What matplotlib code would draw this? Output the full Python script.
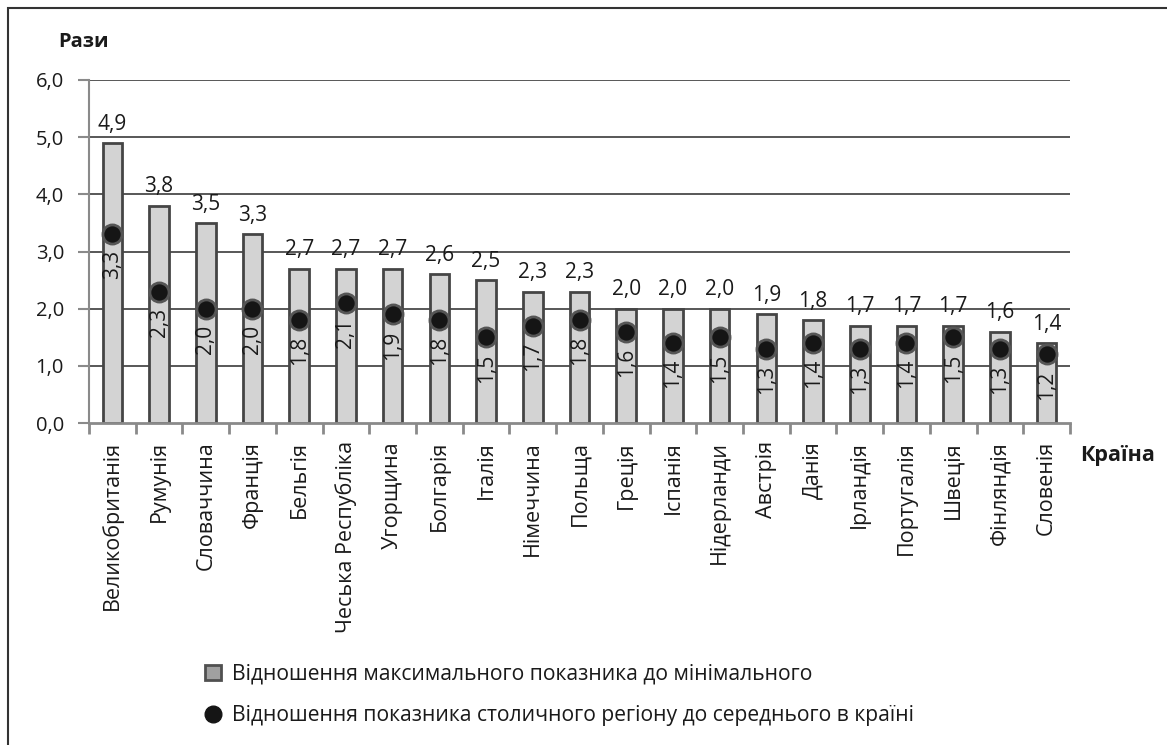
import matplotlib.pyplot as plt
import numpy as np
from matplotlib.lines import Line2D
from matplotlib.patches import Patch, Rectangle

plt.rcParams["font.family"] = ["Open Sans", "DejaVu Sans"]

countries = [
    "Великобританія", "Румунія", "Словаччина", "Франція", "Бельгія",
    "Чеська Республіка", "Угорщина", "Болгарія", "Італія", "Німеччина",
    "Польща", "Греція", "Іспанія", "Нідерланди", "Австрія", "Данія",
    "Ірландія", "Португалія", "Швеція", "Фінляндія", "Словенія",
]
max_to_min = [4.9, 3.8, 3.5, 3.3, 2.7, 2.7, 2.7, 2.6, 2.5, 2.3, 2.3,
              2.0, 2.0, 2.0, 1.9, 1.8, 1.7, 1.7, 1.7, 1.6, 1.4]
capital_to_avg = [3.3, 2.3, 2.0, 2.0, 1.8, 2.1, 1.9, 1.8, 1.5, 1.7, 1.8,
                  1.6, 1.4, 1.5, 1.3, 1.4, 1.3, 1.4, 1.5, 1.3, 1.2]
yticks = [0, 1, 2, 3, 4, 5, 6]

label_bars = "Відношення максимального показника до мінімального"
label_dots = "Відношення показника столичного регіону до середнього в країні"


def fmt(v):
    return f"{v:.1f}".replace(".", ",")


fig = plt.figure(figsize=(11.67, 7.45), dpi=100)
ax = fig.add_axes([89 / 1167, 1 - 423 / 745, (1070 - 89) / 1167, (423 - 80) / 745])

x = np.arange(len(countries))
ax.set_xlim(-0.5, len(countries) - 0.5)
ax.set_ylim(0, 6)

# grid lines (drawn as lines so they sit behind the bars)
for t in yticks[1:]:
    ax.axhline(t, color="#2a2a2a", linewidth=1.1, zorder=1)

ax.bar(x, max_to_min, width=0.42, color="#d3d3d3", edgecolor="#454545",
       linewidth=2, zorder=2)
ax.scatter(x, capital_to_avg, s=190, color="#151515", edgecolor="#555555",
           linewidth=2, zorder=4)

for xi, v in zip(x, max_to_min):
    ax.annotate(fmt(v), (xi, v), xytext=(0, 6), textcoords="offset points",
                ha="center", va="bottom", fontsize=15, color="#1a1a1a")
for xi, v in zip(x, capital_to_avg):
    ax.text(xi, v - 0.28, fmt(v), rotation=90, ha="center", va="top",
            fontsize=15, color="#1a1a1a", zorder=5)

# axes styling
for s in ["top", "right"]:
    ax.spines[s].set_visible(False)
ax.spines["left"].set_color("#8a8a8a")
ax.spines["left"].set_linewidth(1.5)
ax.spines["bottom"].set_color("#8a8a8a")
ax.spines["bottom"].set_linewidth(2)
ax.set_yticks(yticks)
ax.set_yticklabels([fmt(t) for t in yticks], fontsize=14.5, color="#1a1a1a")
ax.tick_params(axis="y", length=8, width=1.5, color="#8a8a8a", pad=10)

ax.set_xticks(x)
ax.set_xticklabels(countries, rotation=90, fontsize=15.5, color="#1a1a1a")
ax.tick_params(axis="x", length=0, pad=13)
ax.set_xticks(np.arange(-0.5, len(countries)), minor=True)
ax.tick_params(axis="x", which="minor", length=8, width=2, color="#8a8a8a")
ax.set_yticks([1, 2, 3, 4, 5, 6], minor=True)
ax.tick_params(axis="y", which="minor", right=True, left=False, length=4,
               width=1, color="#8a8a8a")

fig.text(58 / 1167, 1 - 42 / 745, "Рази", fontsize=14.5, fontweight="bold",
         ha="left", va="center", color="#1a1a1a")
fig.text(1080 / 1167, 1 - 455 / 745, "Країна", fontsize=15.5, fontweight="bold",
         ha="left", va="center", color="#1a1a1a")

handles = [
    Patch(facecolor="#a0a0a0", edgecolor="#505050", linewidth=2),
    Line2D([], [], marker="o", linestyle="none", markersize=12,
           color="#151515"),
]
fig.legend(handles, [label_bars, label_dots], loc="upper left",
           bbox_to_anchor=(186 / 1167, 1 - 645 / 745), frameon=False,
           fontsize=15.2, labelspacing=0.95, handlelength=0.75, handleheight=0.75,
           handletextpad=0.55, labelcolor="#1a1a1a")

# outer frame
fig.patches.append(Rectangle((8 / 1167, -0.05), 1.1, 1.05 - 8 / 745,
                             transform=fig.transFigure, fill=False,
                             edgecolor="#333333", linewidth=1.5))

fig.savefig("out.png", dpi=100)
